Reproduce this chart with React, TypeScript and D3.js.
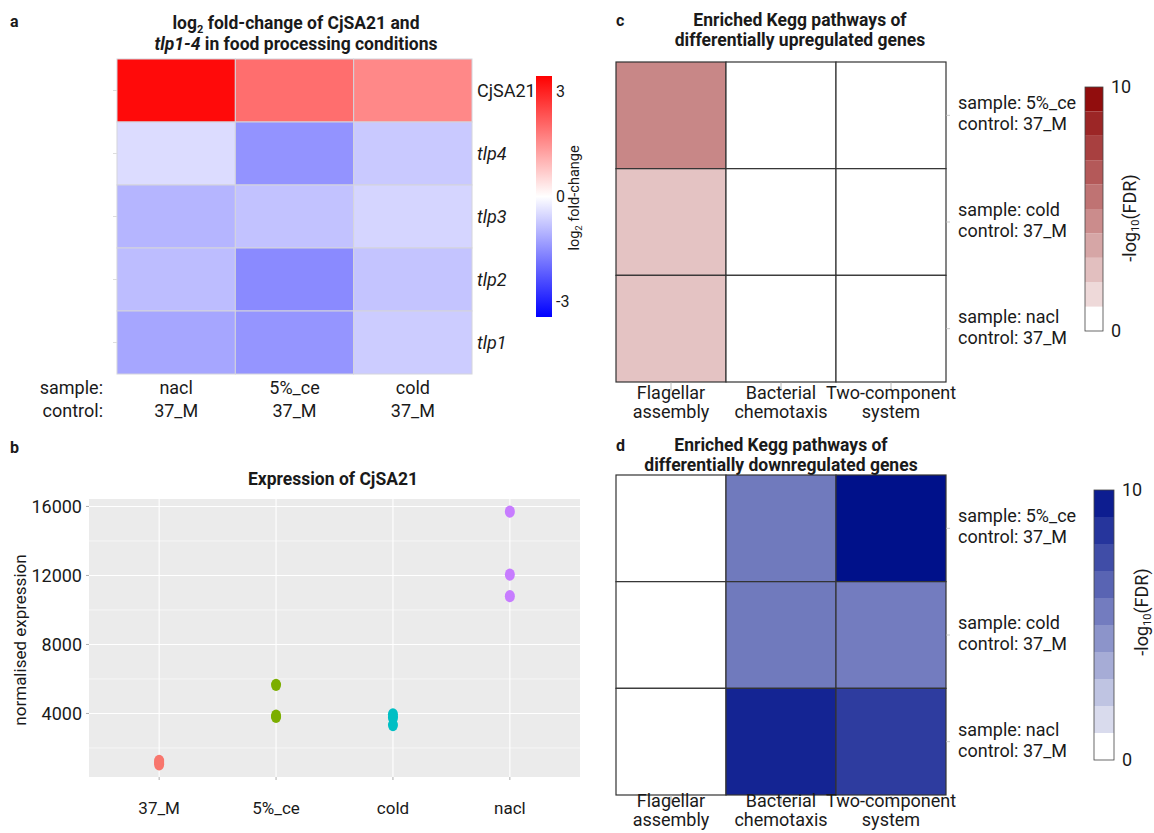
import React from "react";
import * as d3 from "d3";

// ---------- Panel a data ----------
const genes = ["CjSA21", "tlp4", "tlp3", "tlp2", "tlp1"];
const italicGenes = ["tlp4", "tlp3", "tlp2", "tlp1"];
const conditionsA = ["nacl", "5%_ce", "cold"];
const lfcCjSA21 = [3.3, 1.95, 1.6];
const lfcTlp4 = [-0.47, -1.45, -0.72];
const lfcTlp3 = [-1.0, -0.82, -0.57];
const lfcTlp2 = [-0.89, -1.57, -0.79];
const lfcTlp1 = [-1.2, -1.43, -0.69];
const lfcRows = [lfcCjSA21, lfcTlp4, lfcTlp3, lfcTlp2, lfcTlp1];
const lfcTicks = [3, 0, -3];

// ---------- Panel b data ----------
const groupsB = ["37_M", "5%_ce", "cold", "nacl"];
const expr37M = [1050, 1150, 1250];
const expr5ce = [5660, 3870, 3800];
const exprCold = [3950, 3750, 3330];
const exprNacl = [15700, 12050, 10800];
const exprByGroup = [expr37M, expr5ce, exprCold, exprNacl];
const groupColors = ["#F8766D", "#7CAE00", "#00BFC4", "#C77CFF"];
const yTicksMajor = [4000, 8000, 12000, 16000];
const yTicksMinor = [2000, 6000, 10000, 14000];

// ---------- Panels c/d data ----------
const pathways = [["Flagellar", "assembly"], ["Bacterial", "chemotaxis"], ["Two-component", "system"]];
const keggSamples = ["5%_ce", "cold", "nacl"];
const upFDR = [[4.7, 0, 0], [2.35, 0, 0], [2.35, 0, 0]];
const downFDR = [[0, 5.6, 10], [0, 5.6, 5.5], [0, 9.2, 8.2]];
const fdrBins = [0, 1, 2, 3, 4, 5, 6, 7, 8, 9];
const fdrTicks = [0, 10];

const FONT = "Roboto, 'Noto Sans', sans-serif";
const TXT = "#1a1a1a";
const TITLE = 17.5;
const LBL = 18;

function PanelA() {
  const x = d3.scaleBand<string>().domain(conditionsA).range([117, 472]);
  const y = d3.scaleBand<string>().domain(genes).range([59, 374]);
  const color = d3
    .scaleLinear<string>()
    .domain([-3.43, 0, 3.43])
    .range(["#0000ff", "#ffffff", "#ff0000"])
    .interpolate(d3.interpolateRgb);
  const cb = d3.scaleLinear().domain([-3.43, 3.43]).range([317, 76]);
  const stops = d3.range(0, 1.0001, 0.05);
  return (
    <g>
      <text x={10} y={27} fontSize={16} fontWeight="bold" fill={TXT}>a</text>
      <text x={296} y={29} fontSize={TITLE} fontWeight="bold" textAnchor="middle" fill={TXT}>
        log<tspan fontSize={11} dy={4}>2</tspan>
        <tspan dy={-4}> fold-change of CjSA21 and</tspan>
      </text>
      <text x={296} y={50} fontSize={TITLE} fontWeight="bold" textAnchor="middle" fill={TXT}>
        <tspan fontStyle="italic">tlp1-4</tspan> in food processing conditions
      </text>
      {genes.map((g, i) =>
        conditionsA.map((c, j) => (
          <rect
            key={g + c}
            x={x(c)}
            y={y(g)}
            width={x.bandwidth()}
            height={y.bandwidth()}
            fill={color(lfcRows[i][j])}
            stroke="#d4d4dc"
            strokeWidth={1}
          />
        ))
      )}
      {genes.map((g) => (
        <line key={"lt" + g} x1={113} x2={117} y1={y(g)! + y.bandwidth() / 2} y2={y(g)! + y.bandwidth() / 2} stroke="#ddd" />
      ))}
      {genes.map((g) => (
        <text
          key={"rl" + g}
          x={477}
          y={y(g)! + y.bandwidth() / 2}
          dy="0.35em"
          fontSize={LBL}
          fontStyle={italicGenes.includes(g) ? "italic" : "normal"}
          fill={TXT}
        >
          {g}
        </text>
      ))}
      <text x={103} y={394} fontSize={LBL} textAnchor="end" fill={TXT}>sample:</text>
      <text x={103} y={417} fontSize={LBL} textAnchor="end" fill={TXT}>control:</text>
      {conditionsA.map((c) => (
        <g key={"cl" + c}>
          <text x={x(c)! + x.bandwidth() / 2} y={394} fontSize={LBL} textAnchor="middle" fill={TXT}>{c}</text>
          <text x={x(c)! + x.bandwidth() / 2} y={417} fontSize={LBL} textAnchor="middle" fill={TXT}>37_M</text>
        </g>
      ))}
      <defs>
        <linearGradient id="lfcGrad" x1="0" x2="0" y1="0" y2="1">
          {stops.map((s) => (
            <stop key={s} offset={s} stopColor={color(3.43 - s * 6.86)} />
          ))}
        </linearGradient>
      </defs>
      <rect x={536} y={76} width={16} height={241} fill="url(#lfcGrad)" />
      {lfcTicks.map((t) => (
        <text key={"ct" + t} x={556} y={cb(t)} dy="0.35em" fontSize={16} fill={TXT}>{t}</text>
      ))}
      <text transform={`translate(579,198) rotate(-90)`} fontSize={14.5} textAnchor="middle" fill={TXT}>
        log<tspan fontSize={9.5} dy={3}>2</tspan>
        <tspan dy={-3}> fold-change</tspan>
      </text>
    </g>
  );
}

function PanelB() {
  const left = 89, right = 580, top = 499, bottom = 777;
  const all = exprByGroup.flat();
  const mn = d3.min(all)!, mx = d3.max(all)!;
  const pad = (mx - mn) * 0.05;
  const y = d3.scaleLinear().domain([mn - pad, mx + pad]).range([bottom, top]);
  const x = d3.scalePoint<string>().domain(groupsB).range([left, right]).padding(0.6);
  return (
    <g>
      <text x={10} y={453} fontSize={16} fontWeight="bold" fill={TXT}>b</text>
      <text x={333} y={485} fontSize={TITLE} fontWeight="bold" textAnchor="middle" fill={TXT}>Expression of CjSA21</text>
      <rect x={left} y={top} width={right - left} height={bottom - top} fill="#EBEBEB" />
      {yTicksMinor.map((t) => (
        <line key={"mn" + t} x1={left} x2={right} y1={y(t)} y2={y(t)} stroke="#fff" strokeWidth={0.6} />
      ))}
      {yTicksMajor.map((t) => (
        <line key={"mj" + t} x1={left} x2={right} y1={y(t)} y2={y(t)} stroke="#fff" strokeWidth={1.1} />
      ))}
      {groupsB.map((g) => (
        <line key={"vx" + g} x1={x(g)} x2={x(g)} y1={top} y2={bottom} stroke="#fff" strokeWidth={1.1} />
      ))}
      {yTicksMajor.map((t) => (
        <g key={"yl" + t}>
          <line x1={left - 3} x2={left} y1={y(t)} y2={y(t)} stroke="#999" strokeWidth={0.8} />
          <text x={82} y={y(t)} dy="0.35em" fontSize={LBL} textAnchor="end" fill={TXT}>{t}</text>
        </g>
      ))}
      {groupsB.map((g) => (
        <g key={"xl" + g}>
          <line x1={x(g)} x2={x(g)} y1={bottom} y2={bottom + 3} stroke="#999" strokeWidth={0.8} />
          <text x={x(g)} y={814} fontSize={17} textAnchor="middle" fill={TXT}>{g}</text>
        </g>
      ))}
      <text transform="translate(26,640) rotate(-90)" fontSize={17} textAnchor="middle" fill={TXT}>normalised expression</text>
      {exprByGroup.map((vals, gi) =>
        vals.map((v, k) => (
          <ellipse key={gi + "-" + k} cx={x(groupsB[gi])} cy={y(v)} rx={5} ry={6.2} fill={groupColors[gi]} />
        ))
      )}
    </g>
  );
}

function KeggPanel(props: {
  label: string;
  title1: string;
  title2: string;
  titleX: number;
  titleY: number;
  top: number;
  values: number[][];
  endColor: string;
  legendX: number;
  legendW: number;
  legendTop: number;
  legendBottom: number;
  legendTitleX: number;
  legendTitleY: number;
  labelY: number;
}) {
  const p = props;
  const x = d3.scaleBand<number>().domain([0, 1, 2]).range([616, 946]);
  const y = d3.scaleBand<string>().domain(keggSamples).range([p.top, p.top + 320]);
  const color = d3.scaleLinear<string>().domain([0, 10]).range(["#ffffff", p.endColor]).interpolate(d3.interpolateRgb);
  const ly = d3.scaleLinear().domain([0, 10]).range([p.legendBottom, p.legendTop]);
  const bottom = p.top + 320;
  return (
    <g>
      <text x={616} y={p.titleY} fontSize={16} fontWeight="bold" fill={TXT}>{p.label}</text>
      <text x={p.titleX} y={p.titleY} fontSize={TITLE} fontWeight="bold" textAnchor="middle" fill={TXT}>{p.title1}</text>
      <text x={p.titleX} y={p.titleY + 19.5} fontSize={TITLE} fontWeight="bold" textAnchor="middle" fill={TXT}>{p.title2}</text>
      {keggSamples.map((s, i) =>
        pathways.map((pw, j) => (
          <rect
            key={s + j}
            x={x(j)}
            y={y(s)}
            width={x.bandwidth()}
            height={y.bandwidth()}
            fill={color(p.values[i][j])}
            stroke="#333"
            strokeWidth={1.2}
          />
        ))
      )}
      {pathways.map((pw, j) => (
        <g key={"pl" + j}>
          <line x1={x(j)! + x.bandwidth() / 2} x2={x(j)! + x.bandwidth() / 2} y1={bottom} y2={bottom + 9} stroke="#aaa" strokeWidth={0.8} />
          <text x={x(j)! + x.bandwidth() / 2} y={p.labelY} fontSize={LBL} textAnchor="middle" fill={TXT}>{pw[0]}</text>
          <text x={x(j)! + x.bandwidth() / 2} y={p.labelY + 19} fontSize={LBL} textAnchor="middle" fill={TXT}>{pw[1]}</text>
        </g>
      ))}
      {keggSamples.map((s) => {
        const cy = y(s)! + y.bandwidth() / 2;
        return (
          <g key={"rl" + s}>
            <line x1={946} x2={950} y1={cy} y2={cy} stroke="#bbb" strokeWidth={0.8} />
            <text x={958} y={cy - 6} fontSize={LBL} fill={TXT}>sample: {s}</text>
            <text x={958} y={cy + 15} fontSize={LBL} fill={TXT}>control: 37_M</text>
          </g>
        );
      })}
      {fdrBins.map((b) => (
        <rect
          key={"bin" + b}
          x={p.legendX}
          y={ly(b + 1)}
          width={p.legendW}
          height={ly(b) - ly(b + 1)}
          fill={b === 0 ? "#ffffff" : color(b + 0.5)}
        />
      ))}
      <rect x={p.legendX} y={p.legendTop} width={p.legendW} height={p.legendBottom - p.legendTop} fill="none" stroke="#444" strokeWidth={0.8} />
      {fdrTicks.map((t) => (
        <text key={"ft" + t} x={p.legendX + p.legendW + 8} y={ly(t)} dy="0.35em" fontSize={LBL} fill={TXT}>{t}</text>
      ))}
      <text transform={`translate(${p.legendTitleX},${p.legendTitleY}) rotate(-90)`} fontSize={18} textAnchor="middle" fill={TXT}>
        -log<tspan fontSize={11} dy={3}>10</tspan>
        <tspan dy={-3}>(FDR)</tspan>
      </text>
    </g>
  );
}

export default function App() {
  return (
    <svg width={1154} height={833} style={{ display: "block", position: "absolute", left: 0, top: 0, background: "#fff" }} fontFamily={FONT}>
      <rect width={1154} height={833} fill="#fff" />
      <PanelA />
      <PanelB />
      <KeggPanel
        label="c"
        title1="Enriched Kegg pathways of"
        title2="differentially upregulated genes"
        titleX={800}
        titleY={26}
        top={62}
        values={upFDR}
        endColor="#8B0000"
        legendX={1085}
        legendW={18}
        legendTop={87}
        legendBottom={331}
        legendTitleX={1136}
        legendTitleY={218}
        labelY={399}
      />
      <KeggPanel
        label="d"
        title1="Enriched Kegg pathways of"
        title2="differentially downregulated genes"
        titleX={781}
        titleY={451}
        top={475}
        values={downFDR}
        endColor="#00118A"
        legendX={1094}
        legendW={20}
        legendTop={490}
        legendBottom={760}
        legendTitleX={1148}
        legendTitleY={612}
        labelY={807}
      />
    </svg>
  );
}
